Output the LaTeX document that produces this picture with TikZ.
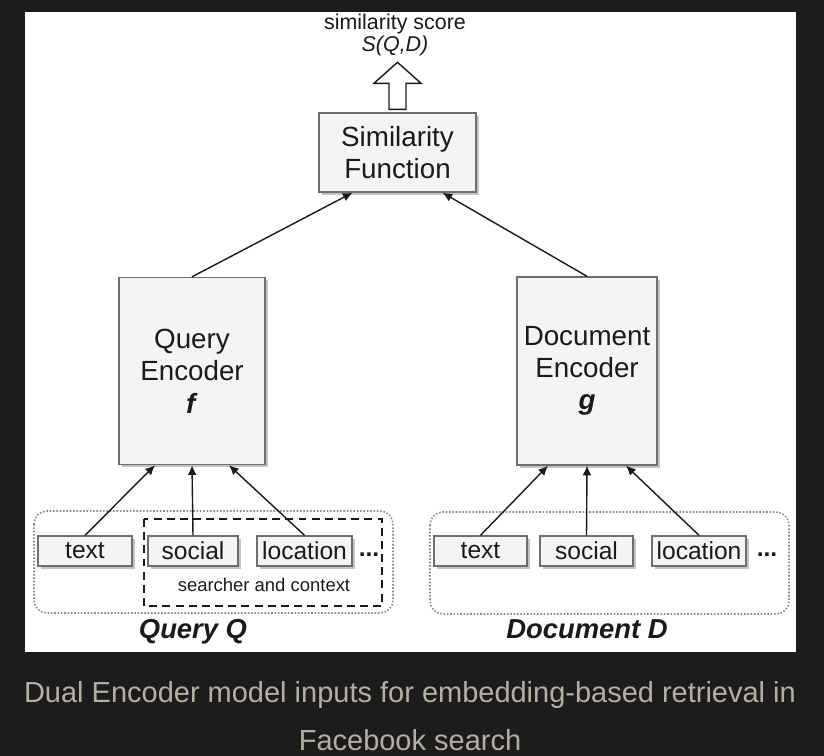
\documentclass[tikz,border=0pt]{standalone}
\usepackage{fontspec}
\setmainfont{Liberation Sans}
\usepackage{xcolor}
\usetikzlibrary{arrows.meta,positioning,shadows,calc}
\definecolor{ink}{HTML}{1A1A1A}
\definecolor{page}{HTML}{1C1C1C}
\definecolor{boxfill}{HTML}{F4F4F4}
\definecolor{boxline}{HTML}{6E6E6E}
\definecolor{shade}{HTML}{C4C4C4}
\definecolor{dotline}{HTML}{8A8A8A}
\definecolor{caption}{HTML}{B6AF9F}
\tikzset{
  box/.style={draw=boxline, line width=0.8pt, fill=boxfill, align=center, inner sep=0pt, text=ink,
    drop shadow={shadow xshift=1.6pt, shadow yshift=-1.6pt, fill=shade, opacity=1}},
  encbox/.style={box, font=\fontsize{15.8}{18.4}\selectfont},
  inbox/.style={box, minimum height=0.6cm, font=\fontsize{14}{16}\selectfont},
  group/.style={draw=dotline, densely dotted, line width=0.9pt, rounded corners=0.26cm},
  ctxbox/.style={draw=ink, dashed, dash pattern=on 4.5pt off 3pt, line width=1.3pt},
  label/.style={font=\fontsize{10.5}{12}\selectfont, text=ink},
  title/.style={font=\fontsize{15.6}{18}\selectfont\bfseries\itshape, text=ink, anchor=base},
  dots/.style={font=\fontsize{14}{16}\selectfont\bfseries, text=ink},
  arrow/.style={-{Latex[length=5.5pt,width=5pt]}, line width=0.8pt, draw=ink},
  hollow/.style={draw=ink, line width=0.8pt, fill=white, line join=miter}
}

\begin{document}
\begin{tikzpicture}[x=0.02cm, y=-0.02cm]
\fill[page] (0,0) rectangle (824,756);
\fill[white] (25,12) rectangle (796,652);
\useasboundingbox (0,0) rectangle (824,756);
% top of the model
\node[font=\fontsize{12.2}{12.6}\selectfont, text=ink, align=center] (score) at (395,35) {similarity score\\\textit{S(Q,D)}};
\node[encbox, minimum width=3.14cm, minimum height=1.58cm] (simf) at (397.5,152.5) {Similarity\\Function};
\draw[hollow] ($(simf.north)+(-8.5,-3)$) -- ++(0,-26) -- ++(-15,0) -- ($(simf.north)+(0,-50)$)
  -- ($(simf.north)+(23.5,-29)$) -- ++(-15,0) -- ++(0,26) -- cycle;
% encoders
\node[encbox, minimum width=2.92cm, minimum height=3.74cm] (qenc) at (192,371) {Query\\Encoder\\\textbf{\textit{f}}};
\node[encbox, minimum width=2.8cm, minimum height=3.76cm] (denc) at (587,371) {Document\\Encoder\\\textbf{\textit{g}}};
\draw[arrow] (qenc.north) -- ($(simf.south)+(-45,0)$);
\draw[arrow] (denc.north) -- ($(simf.south)+(45,0)$);
% query inputs
\draw[group] (34,511) rectangle (393,613);
\draw[ctxbox] (144,519) rectangle (382,606);
\node[inbox, minimum width=1.88cm] (qtext) at (85,551) {text};
\node[inbox, minimum width=1.8cm] (qsocial) at (193,551) {social};
\node[inbox, minimum width=1.9cm] (qloc) at (304.5,551) {location};
\node[dots] (qdots) at (369,555) {...};
\node[label] (ctx) at (264,585) {searcher and context};
\node[title] (query) at (193,638) {Query Q};
\draw[arrow] (qtext.north) -- ($(qenc.south)+(-37,0)$);
\draw[arrow] (qsocial.north) -- (qenc.south);
\draw[arrow] (qloc.north) -- ($(qenc.south)+(37,0)$);
% document inputs
\draw[group] (430,512) rectangle (789,614);
\node[inbox, minimum width=1.86cm] (dtext) at (480.5,551) {text};
\node[inbox, minimum width=1.86cm] (dsocial) at (586.5,551) {social};
\node[inbox, minimum width=1.88cm] (dloc) at (699,551) {location};
\node[dots] (ddots) at (767,555) {...};
\node[title] (document) at (587,638) {Document D};
\draw[arrow] (dtext.north) -- ($(denc.south)+(-39,0)$);
\draw[arrow] (dsocial.north) -- (denc.south);
\draw[arrow] (dloc.north) -- ($(denc.south)+(39,0)$);
% caption
\node[font=\fontsize{16.5}{27}\selectfont, text=caption, align=center] (cap) at (410,716)
  {Dual Encoder model inputs for embedding-based retrieval in\\Facebook search};
\end{tikzpicture}
\end{document}
